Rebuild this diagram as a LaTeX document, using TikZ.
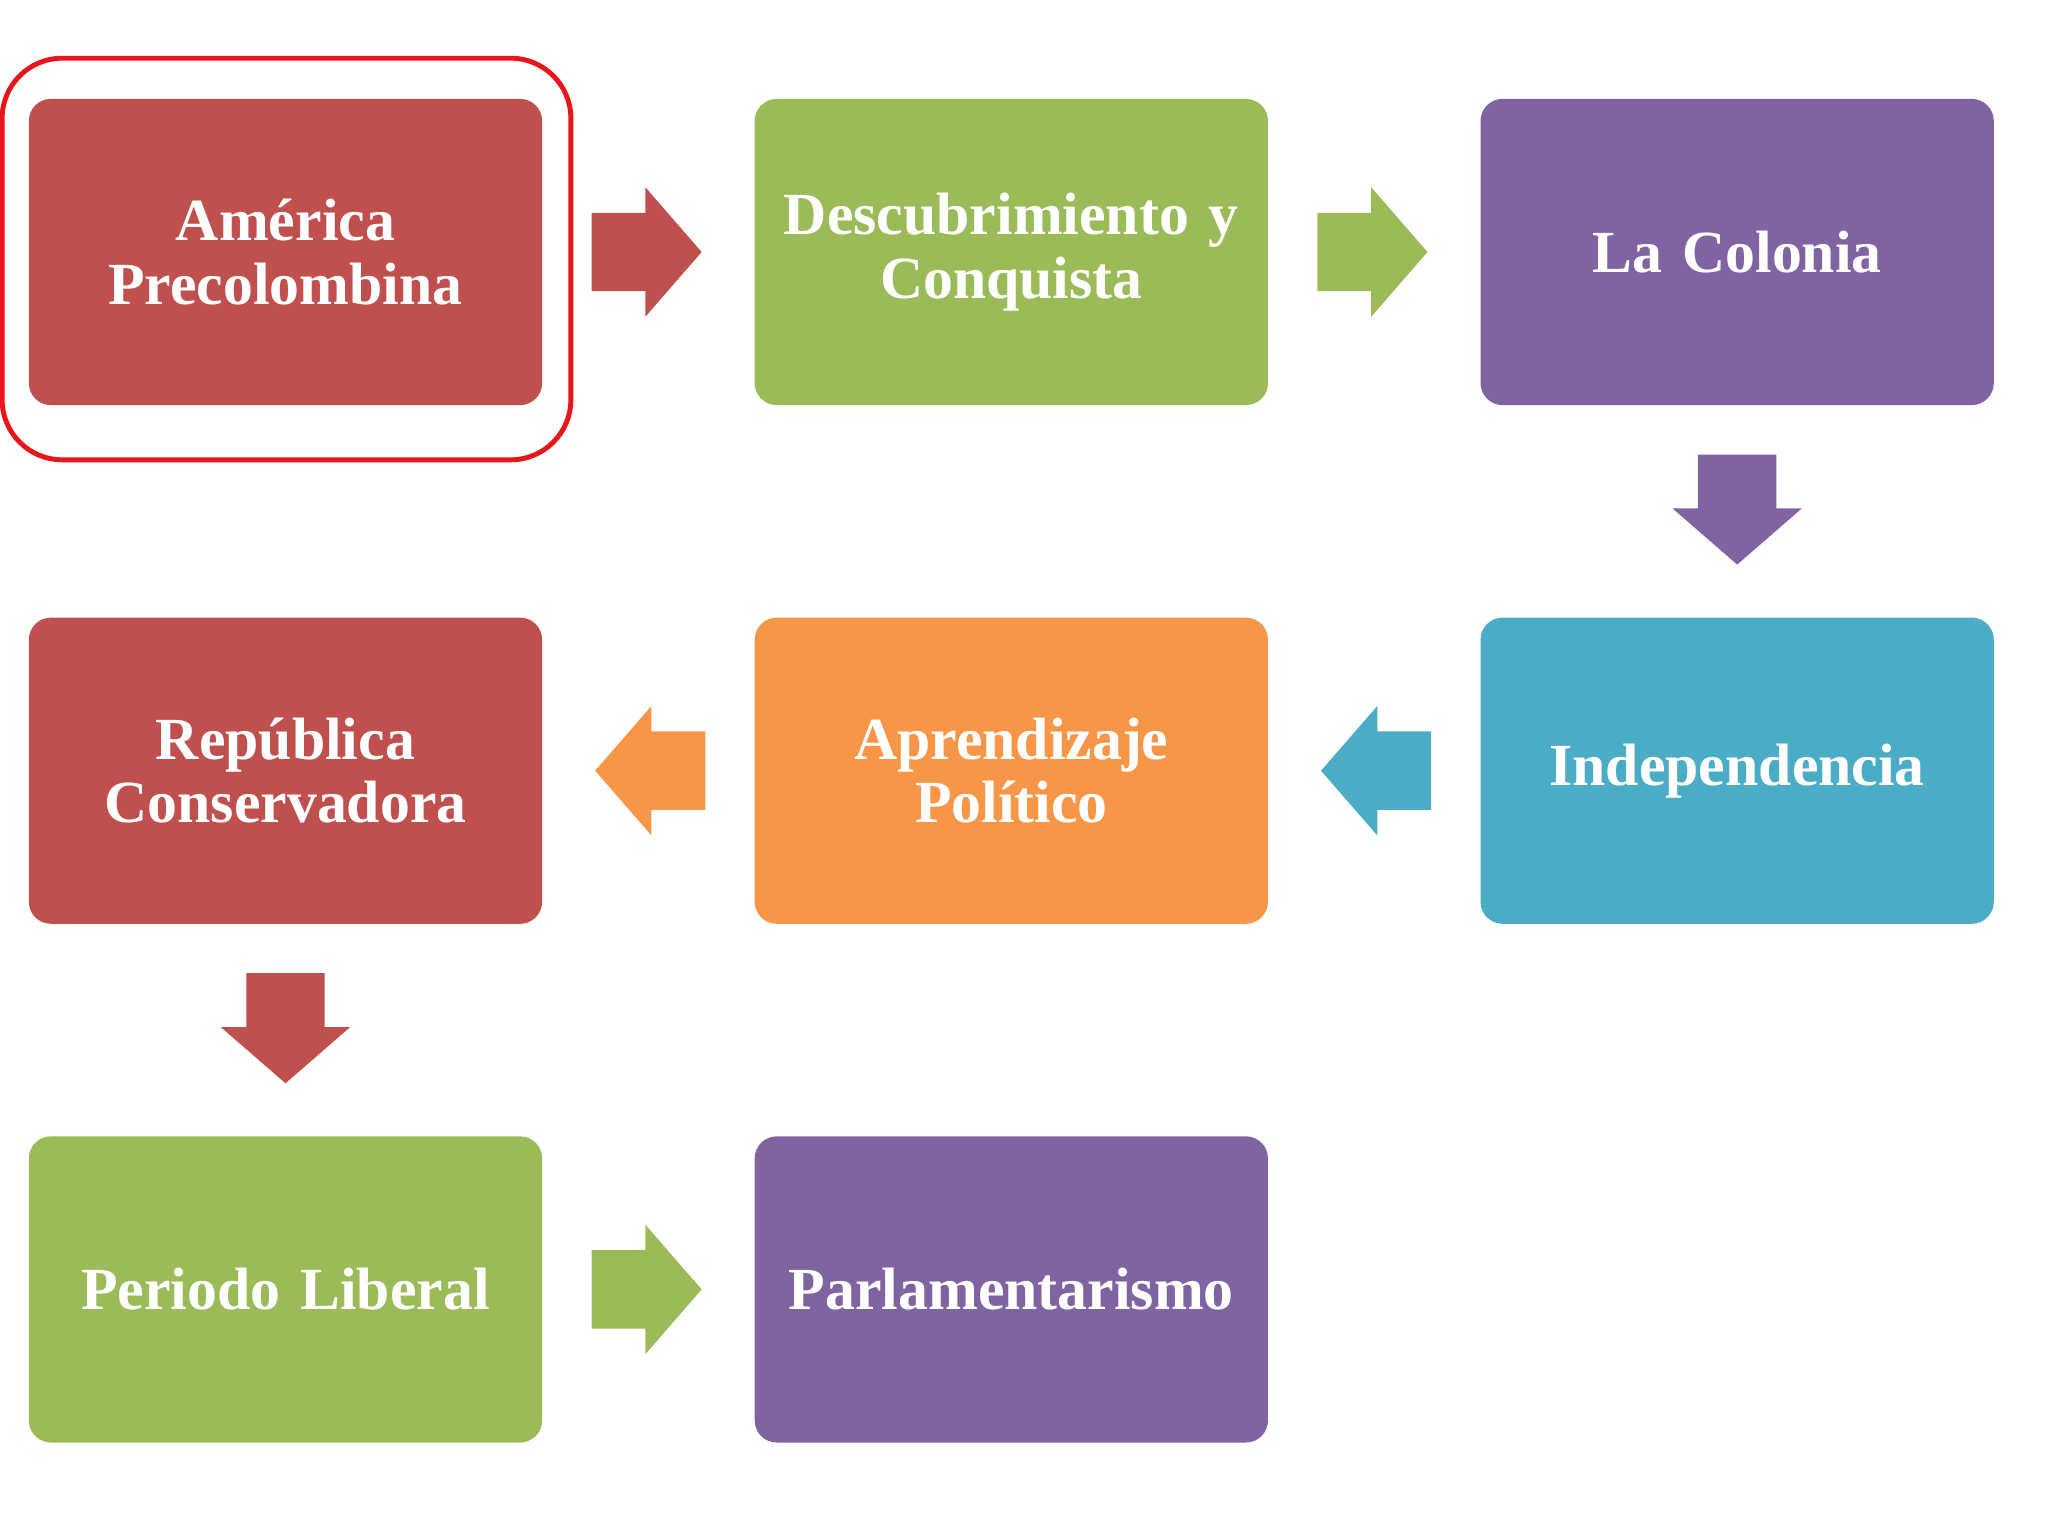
\documentclass[tikz,border=0pt]{standalone}
\usepackage{fontspec}
\setmainfont{Liberation Serif}
\usetikzlibrary{positioning, calc, shapes.arrows}
\definecolor{hrojo}{HTML}{C0504D}
\definecolor{hverde}{HTML}{9BBB59}
\definecolor{hmorado}{HTML}{8064A2}
\definecolor{hazul}{HTML}{4BACC6}
\definecolor{hnaranja}{HTML}{F79646}
\definecolor{hmarca}{HTML}{E8151B}
\newcommand{\etapafuente}{\fontsize{17}{18}\selectfont\bfseries\spaceskip=0.17em\relax}

\begin{document}
\begin{tikzpicture}[x=0.01cm, y=-0.01cm, node distance=2.11cm,
		etapa/.style={rectangle, rounded corners=0.22cm, minimum width=5.13cm, minimum height=3.06cm, text width=4.6cm, align=center, text=white, font=\etapafuente},
		flecha/.style={single arrow, anchor=tail, inner xsep=0pt, inner ysep=3.85mm, minimum height=1.1cm, single arrow head extend=2.55mm, single arrow tip angle=98, single arrow head indent=0pt}]
		\useasboundingbox (0,0) rectangle (2048,1536);
		\node[etapa, fill=hrojo] (ameri) at (285.5,252) {Am\'erica\\Precolombina};
		\node[etapa, fill=hverde] (descu) [right=of ameri] {Descubrimiento y\\Conquista};
		\node[etapa, fill=hmorado] (colon) [right=of descu] {La Colonia};
		\node[etapa, fill=hazul] (indep) [below=of colon] {Independencia};
		\node[etapa, fill=hnaranja] (apren) [left=of indep] {Aprendizaje\\Pol\'itico};
		\node[etapa, fill=hrojo] (repub) [left=of apren] {Rep\'ublica\\Conservadora};
		\node[etapa, fill=hverde] (perio) [below=of repub] {Periodo Liberal};
		\node[etapa, fill=hmorado] (parla) [right=of perio] {Parlamentarismo};
		% flechas entre etapas
		\node[flecha, fill=hrojo] (f1) at ([xshift=0.48cm]ameri.east) {};
		\node[flecha, fill=hverde] (f2) at ([xshift=0.48cm]descu.east) {};
		\node[flecha, fill=hmorado, rotate=-90] (f3) at ([yshift=-0.48cm]colon.south) {};
		\node[flecha, fill=hazul, rotate=180] (f4) at ([xshift=-0.48cm]indep.west) {};
		\node[flecha, fill=hnaranja, rotate=180] (f5) at ([xshift=-0.48cm]apren.west) {};
		\node[flecha, fill=hrojo, rotate=-90] (f6) at ([yshift=-0.48cm]repub.south) {};
		\node[flecha, fill=hverde] (f7) at ([xshift=0.48cm]perio.east) {};
		% marco de la etapa actual
		\draw[hmarca, line width=1.4pt, rounded corners=0.6cm] ($(ameri.north west)+(-26,-40)$) rectangle ($(ameri.south east)+(28,54)$);
	\end{tikzpicture}
\end{document}
